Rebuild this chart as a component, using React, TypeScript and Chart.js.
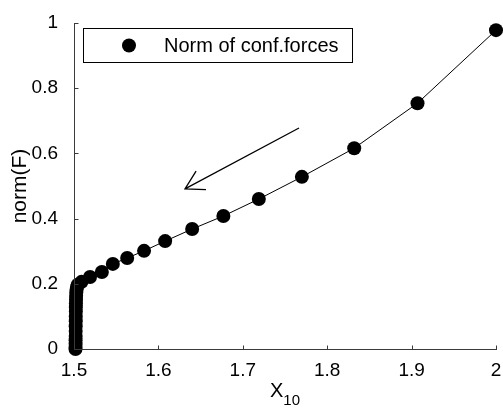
import React, { useEffect, useRef } from "react";
import { Chart, registerables } from "chart.js";

Chart.register(...registerables);

const xValues = [
  1.5018, 1.5018, 1.5019, 1.5019, 1.502, 1.502, 1.502, 1.5021, 1.5021, 1.5022, 1.5022, 1.5023,
  1.5024, 1.5025, 1.5027, 1.503, 1.5035, 1.5045, 1.509, 1.519, 1.533, 1.546, 1.563, 1.583,
  1.608, 1.64, 1.677, 1.719, 1.77, 1.832, 1.907, 2.0,
];
const yValues = [
  0.0, 0.006, 0.015, 0.027, 0.04, 0.055, 0.07, 0.085, 0.1, 0.115, 0.128, 0.14,
  0.152, 0.163, 0.173, 0.182, 0.19, 0.197, 0.206, 0.221, 0.236, 0.261, 0.279, 0.301,
  0.331, 0.368, 0.408, 0.46, 0.528, 0.616, 0.754, 0.978,
];
const xTicks = [1.5, 1.6, 1.7, 1.8, 1.9, 2];
const yTicks = [0, 0.2, 0.4, 0.6, 0.8, 1];
const legendLabel = "Norm of conf.forces";
const yAxisTitle = "norm(F)";
const xAxisTitleMain = "X";
const xAxisTitleSub = "10";
// arrow start and tip in data units
const arrowFrom = { x: 1.7666, y: 0.678 };
const arrowTo = { x: 1.6315, y: 0.491 };

const FONT = "Liberation Sans, Arial, Helvetica, sans-serif";

const overlayPlugin = {
  id: "overlay",
  afterDraw(chart: any) {
    const ctx = chart.ctx;
    const area = chart.chartArea;
    const xs = chart.scales.x;
    const ys = chart.scales.y;
    ctx.save();
    // axes
    ctx.strokeStyle = "#3a3a3a";
    ctx.lineWidth = 1;
    ctx.beginPath();
    const L = Math.round(area.left) + 0.5;
    const B = Math.round(area.bottom) + 0.5;
    ctx.moveTo(L, Math.round(area.top));
    ctx.lineTo(L, B);
    ctx.lineTo(Math.round(area.right) + 1, B);
    ctx.stroke();
    // inward ticks
    ctx.beginPath();
    xTicks.forEach((v) => {
      const px = Math.round(xs.getPixelForValue(v)) + 0.5;
      ctx.moveTo(px, B);
      ctx.lineTo(px, B - 4);
    });
    yTicks.forEach((v) => {
      const py = Math.round(ys.getPixelForValue(v)) + 0.5;
      ctx.moveTo(L, py);
      ctx.lineTo(L + 4, py);
    });
    ctx.stroke();

    // arrow
    const x1 = xs.getPixelForValue(arrowFrom.x);
    const y1 = ys.getPixelForValue(arrowFrom.y);
    const x2 = xs.getPixelForValue(arrowTo.x);
    const y2 = ys.getPixelForValue(arrowTo.y);
    const ang = Math.atan2(y1 - y2, x1 - x2);
    const hl = 21;
    const ha = (30 * Math.PI) / 180;
    ctx.strokeStyle = "#000";
    ctx.lineWidth = 1.3;
    ctx.beginPath();
    ctx.moveTo(x1, y1);
    ctx.lineTo(x2, y2);
    ctx.moveTo(x2 + hl * Math.cos(ang - ha), y2 + hl * Math.sin(ang - ha));
    ctx.lineTo(x2, y2);
    ctx.lineTo(x2 + hl * Math.cos(ang + ha), y2 + hl * Math.sin(ang + ha));
    ctx.stroke();

    // legend
    ctx.fillStyle = "#fff";
    ctx.fillRect(83, 28, 269, 35);
    ctx.strokeStyle = "#000";
    ctx.lineWidth = 1;
    ctx.strokeRect(83.5, 28.5, 269, 34);
    ctx.fillStyle = "#000";
    ctx.beginPath();
    ctx.arc(129, 45.5, 7, 0, Math.PI * 2);
    ctx.fill();
    ctx.font = `20px ${FONT}`;
    ctx.textAlign = "left";
    ctx.textBaseline = "middle";
    ctx.fillText(legendLabel, 164, 46);

    // y title
    ctx.save();
    ctx.translate(20, 186);
    ctx.rotate(-Math.PI / 2);
    ctx.textAlign = "center";
    ctx.textBaseline = "middle";
    ctx.font = `21px ${FONT}`;
    ctx.fillText(yAxisTitle, 0, 0);
    ctx.restore();

    // x title with subscript
    ctx.textAlign = "left";
    ctx.textBaseline = "alphabetic";
    ctx.font = `20px ${FONT}`;
    const mw = ctx.measureText(xAxisTitleMain).width;
    ctx.font = `15px ${FONT}`;
    const sw = ctx.measureText(xAxisTitleSub).width;
    const cx = (area.left + area.right) / 2;
    const startX = cx - (mw + sw) / 2;
    ctx.font = `20px ${FONT}`;
    ctx.fillText(xAxisTitleMain, startX, 397);
    ctx.font = `15px ${FONT}`;
    ctx.fillText(xAxisTitleSub, startX + mw, 405);
    ctx.restore();
  },
};

export default function App() {
  const ref = useRef<HTMLCanvasElement | null>(null);
  useEffect(() => {
    if (!ref.current) return;
    const data = xValues.map((x, i) => ({ x, y: yValues[i] }));
    const chart = new Chart(ref.current, {
      type: "scatter",
      data: {
        datasets: [
          {
            label: legendLabel,
            data,
            showLine: true,
            borderColor: "#000",
            borderWidth: 1,
            pointRadius: 7,
            pointHoverRadius: 7,
            pointBackgroundColor: "#000",
            pointBorderColor: "#000",
            pointBorderWidth: 0,
            clip: false,
          } as any,
        ],
      },
      options: {
        responsive: false,
        animation: false,
        devicePixelRatio: 1,
        layout: { padding: { left: 0, right: 7, top: 23, bottom: 0 } },
        plugins: { legend: { display: false }, tooltip: { enabled: false } },
        scales: {
          x: {
            type: "linear",
            min: 1.5,
            max: 2,
            afterBuildTicks: (s: any) => {
              s.ticks = xTicks.map((v) => ({ value: v }));
            },
            afterFit: (s: any) => {
              s.height = 61;
              s.paddingLeft = 0;
              s.paddingRight = 0;
            },
            grid: { display: false },
            border: { display: false },
            ticks: {
              color: "#000",
              font: { family: FONT, size: 19 },
              padding: 2,
              maxRotation: 0,
              autoSkip: false,
              callback: (v: any) => String(Number(v)),
            },
          },
          y: {
            type: "linear",
            min: 0,
            max: 1,
            afterBuildTicks: (s: any) => {
              s.ticks = yTicks.map((v) => ({ value: v }));
            },
            afterFit: (s: any) => {
              s.width = 74;
              s.paddingTop = 0;
              s.paddingBottom = 0;
            },
            grid: { display: false },
            border: { display: false },
            ticks: {
              color: "#000",
              font: { family: FONT, size: 19 },
              padding: 8,
              autoSkip: false,
              callback: (v: any) => String(Number(v)),
            },
          },
        },
      },
      plugins: [overlayPlugin],
    });
    return () => chart.destroy();
  }, []);
  return (
    <div style={{ position: "fixed", left: 0, top: 0, width: 503, height: 410, background: "#fff" }}>
      <canvas ref={ref} width={503} height={410} style={{ width: 503, height: 410 }} />
    </div>
  );
}
